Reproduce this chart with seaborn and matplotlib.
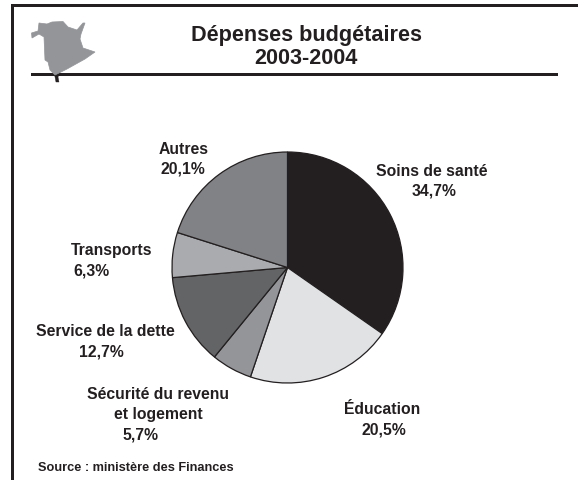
import matplotlib
matplotlib.use("Agg")
import matplotlib.pyplot as plt
import seaborn as sns
from matplotlib.patches import Polygon, Rectangle

# ---------- DATA ----------
categories = ["Soins de santé", "Éducation", "Sécurité du revenu\net logement",
              "Service de la dette", "Transports", "Autres"]
values = [34.7, 20.5, 5.7, 12.7, 6.3, 20.1]
title_lines = ["Dépenses budgétaires", "2003-2004"]
source = "Source : ministère des Finances"

# ---------- STYLE ----------
W, H = 578, 481
INK = "#231f20"
greys = ["#231f20", "#e1e2e4", "#939598", "#636466", "#a9abae", "#808285"]
sns.set_theme(style="white", palette=sns.color_palette(greys))
plt.rcParams["font.family"] = ["Liberation Sans", "DejaVu Sans"]

# reference pixel positions: name lines (x, y), then the percentage (x, y)
name_pos = [[(432, 171)], [(382, 410)], [(158, 395), (158, 415)],
            [(105, 332)], [(112, 251)], [(184, 149)]]
pct_pos = [(434, 191), (384, 430), (140, 435), (101, 352), (91, 271), (183, 169)]

# New Brunswick outline, in reference pixels
map_outline = [(39, 24), (47, 25), (52, 23), (63, 22.5), (68, 28), (77, 31), (83, 24),
               (85, 24), (81, 35), (80, 40), (83, 49), (95, 53), (85, 60), (67, 70),
               (59, 74), (55, 76), (50, 71), (48, 63),
               (45, 61), (44, 38), (39, 35), (32, 39), (31.5, 34), (38, 32)]
map_tail = [(54, 73), (60, 73), (58, 78), (59, 83), (56, 83), (55, 78)]


def py(y):
    return H - y


fig = plt.figure(figsize=(W / 100, H / 100), dpi=100)
ax = fig.add_axes([0, 0, 1, 1])

# ---------- PIE ----------
ax.pie(values, colors=sns.color_palette(), startangle=90, counterclock=False,
       center=(287.5, py(268.5)), radius=115.5, frame=True,
       wedgeprops={"edgecolor": INK, "linewidth": 0.9})
ax.set_xlim(0, W)
ax.set_ylim(0, H)
ax.set_aspect("equal")
ax.axis("off")

# ---------- FRAME AND RULE ----------
ax.add_patch(Rectangle((11, 0), 3, py(4.5), color=INK, lw=0))
ax.add_patch(Rectangle((11, py(7.7)), W - 11, 3.2, color=INK, lw=0))
ax.add_patch(Rectangle((31, py(77)), 527, 3.5, color=INK, lw=0))
ax.add_patch(Polygon([(x, py(y)) for x, y in map_outline], closed=True,
                     facecolor="#939598", edgecolor="#939598", lw=0.5, zorder=3))
ax.add_patch(Polygon([(x, py(y)) for x, y in map_tail], closed=True,
                     facecolor=INK, edgecolor=INK, lw=0.3, zorder=2.9))

# ---------- TEXT ----------
for line, y in zip(title_lines, [35, 58]):
    ax.text(306, py(y), line, ha="center", va="center", fontsize=15.6,
            fontweight="bold", color=INK)

for name, lines, value, (px, pc) in zip(categories, name_pos, values, pct_pos):
    for part, (x, y) in zip(name.split("\n"), lines):
        ax.text(x, py(y), part, ha="center", va="center", fontsize=11.3,
                fontweight="bold", color=INK)
    ax.text(px, py(pc), f"{value:.1f}%".replace(".", ","), ha="center", va="center",
            fontsize=11.3, fontweight="bold", color=INK)

ax.text(38, py(468), source, ha="left", va="center", fontsize=9.2,
        fontweight="bold", color=INK)

fig.savefig("out.png", dpi=100)
